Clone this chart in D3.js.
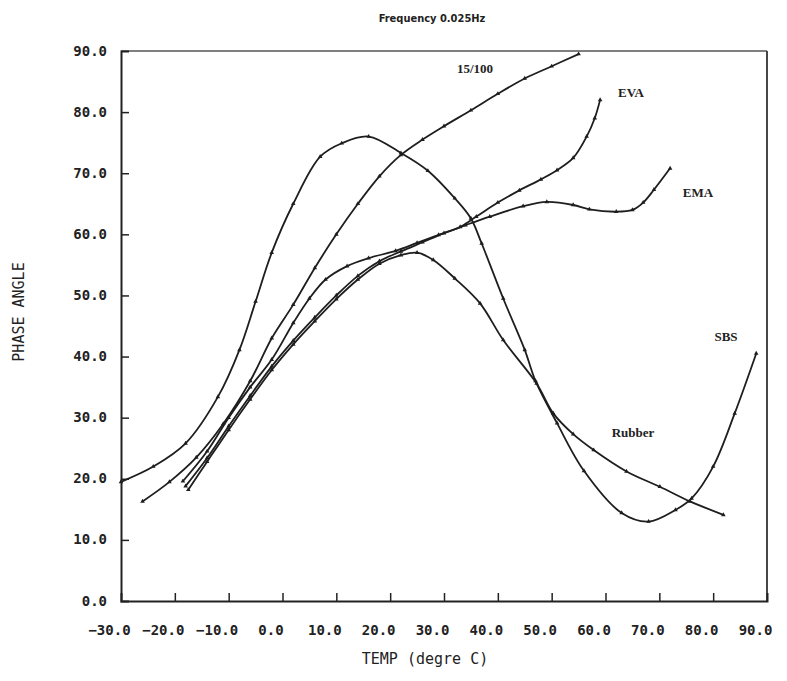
<!DOCTYPE html>
<html>
<head>
<meta charset="utf-8">
<script src="https://cdnjs.cloudflare.com/ajax/libs/d3/7.8.5/d3.min.js"></script>
<style>
	body { margin: 0; background: #fff; }
	.ejes text { font-family: "DejaVu Sans Mono", monospace; font-size: 14px; font-weight: bold; fill: #222; }
	.nombres text { font-family: "Liberation Serif", serif; font-size: 13px; font-weight: bold; fill: #222; }
</style>
</head>
<body>
<div id="grafico"></div>
<script>
// datos (temperatura en C, angulo de fase)
var temp_sbs  = [-30, -24, -18, -12, -8, -5, -2, 2, 7, 11, 16, 22, 27, 32, 35, 37, 41, 45, 47, 51, 56, 63, 68, 73, 76, 80, 84, 88];
var fase_sbs  = [19.5, 22, 25.8, 33.4, 41.1, 49, 57, 65, 72.7, 74.9, 76, 73.3, 70.4, 65.9, 62.6, 58.5, 49.5, 41.1, 36, 29.1, 21.3, 14.4, 13, 14.9, 16.8, 22, 30.7, 40.5];

var temp_1510 = [-26, -21, -16, -11, -6, -2, 2, 6, 10, 14, 18, 22, 26, 30, 35, 40, 45, 50, 55];
var fase_1510 = [16.3, 19.5, 23.5, 29, 36, 43, 48.5, 54.5, 60, 65, 69.5, 73, 75.5, 77.7, 80.3, 83, 85.5, 87.5, 89.5];

var temp_eva  = [-18.5, -14, -10, -6, -2, 2, 5, 8, 12, 16, 21, 25, 29, 33, 36, 40, 44, 48, 51, 54, 56.5, 58, 59];
var fase_eva  = [19.6, 24.5, 30, 35, 39.5, 45.5, 49.5, 52.6, 54.8, 56.1, 57.3, 58.6, 59.9, 61.2, 62.9, 65.2, 67.2, 69, 70.5, 72.5, 76, 79, 82];

var temp_ema  = [-18, -14, -10, -6, -2, 2, 6, 10, 14, 18, 22, 26, 30, 34, 38.5, 44.7, 49.1, 54, 57, 62, 65, 67, 69, 72];
var fase_ema  = [18.8, 23.4, 28.6, 33.6, 38.4, 42.6, 46.4, 50, 53.2, 55.6, 57.2, 58.7, 60.2, 61.5, 62.9, 64.6, 65.3, 64.8, 64.1, 63.7, 64, 65.2, 67.3, 70.8];

var temp_rub  = [-17.5, -14, -10, -6, -2, 2, 6, 10, 14, 18, 22, 25, 28, 32, 36.7, 41, 47.2, 50.3, 54, 57.8, 63.9, 70.1, 75.7, 81.9];
var fase_rub  = [18.2, 22.8, 28, 33, 37.8, 42, 45.8, 49.4, 52.6, 55.2, 56.6, 57, 55.8, 52.8, 48.7, 42.7, 35.6, 30.7, 27.3, 24.7, 21.2, 18.7, 16.3, 14.1];

var nombres   = ["SBS", "15/100", "EVA", "EMA", "Rubber"];
var ticks_x   = [-30, -20, -10, 0, 10, 20, 30, 40, 50, 60, 70, 80, 90];
var ticks_y   = [0, 10, 20, 30, 40, 50, 60, 70, 80, 90];

var width = 787;
var height = 681;

var canvas = d3.select("#grafico")
				.append("svg")
				.attr("width", width)
				.attr("height", height);

var x = d3.scaleLinear().domain([-30, 90]).range([121, 767]);
var y = d3.scaleLinear().domain([0, 90]).range([601, 51]);

var grupo_ejes = canvas.append("g").attr("class", "ejes");
var grupo_curvas = canvas.append("g");
var grupo_nombres = canvas.append("g").attr("class", "nombres");

// Titulo

canvas.append("text")
		.attr("x", 432)
		.attr("y", 22)
		.attr("text-anchor", "middle")
		.style("font-family", "DejaVu Sans Condensed, sans-serif")
		.style("font-size", "11px")
		.style("font-weight", "bold")
		.style("fill", "#222")
		.text("Frequency 0.025Hz");

// Marco

grupo_ejes.append("line")
			.attr("x1", x(-30)).attr("x2", x(90))
			.attr("y1", y(90)).attr("y2", y(90))
			.attr("stroke", "#555").attr("stroke-width", 1.5);
grupo_ejes.append("line")
			.attr("x1", x(90)).attr("x2", x(90))
			.attr("y1", y(90)).attr("y2", y(0))
			.attr("stroke", "#333").attr("stroke-width", 1.8);

// Eje X

var eje_x = d3.axisBottom(x)
				.tickValues(ticks_x)
				.tickSize(-8)
				.tickPadding(20)
				.tickFormat(d3.format(".1f"));

var g_x = grupo_ejes.append("g")
				.attr("transform", "translate(0," + y(0) + ")")
				.call(eje_x);
g_x.select(".domain").attr("stroke", "#222").attr("stroke-width", 2);
g_x.selectAll(".tick line").attr("stroke", "#222").attr("stroke-width", 1.5);
g_x.selectAll(".tick text").attr("dx", -12).attr("dy", 14);
g_x.selectAll(".tick").filter(function(d){ return d == -30 || d == 90; }).select("line").remove();

// Eje Y

var eje_y = d3.axisLeft(y)
				.tickValues(ticks_y)
				.tickSize(-8)
				.tickPadding(14)
				.tickFormat(d3.format(".1f"));

var g_y = grupo_ejes.append("g")
				.attr("transform", "translate(" + x(-30) + ",0)")
				.call(eje_y);
g_y.select(".domain").attr("stroke", "#222").attr("stroke-width", 2);
g_y.selectAll(".tick line").attr("stroke", "#222").attr("stroke-width", 1.5);
g_y.selectAll(".tick text").attr("dy", 4);
g_y.selectAll(".tick").filter(function(d){ return d == 0 || d == 90; }).select("line").remove();

// Titulos de ejes

grupo_ejes.append("text")
			.attr("x", 425)
			.attr("y", 664)
			.attr("text-anchor", "middle")
			.style("font-size", "15px")
			.style("font-weight", "normal")
			.text("TEMP (degre C)");

grupo_ejes.append("text")
			.attr("transform", "translate(24,312) rotate(-90)")
			.attr("text-anchor", "middle")
			.style("font-size", "15px")
			.style("font-weight", "normal")
			.text("PHASE ANGLE");

// Curvas

var temps = [temp_sbs, temp_1510, temp_eva, temp_ema, temp_rub];
var fases = [fase_sbs, fase_1510, fase_eva, fase_ema, fase_rub];

var linea = d3.line()
				.x(function(d){ return x(d[0]); })
				.y(function(d){ return y(d[1]); })
				.curve(d3.curveCatmullRom.alpha(0.5));

var marca = d3.symbol().type(d3.symbolTriangle).size(9);

for(i = 0; i < temps.length; i++)
{
	var puntos = d3.zip(temps[i], fases[i]);

	grupo_curvas.append("path")
				.datum(puntos)
				.attr("d", linea)
				.attr("fill", "none")
				.attr("stroke", "#1e1e1e")
				.attr("stroke-width", 1.8);

	grupo_curvas.selectAll(".m" + i)
				.data(puntos)
				.enter()
				.append("path")
				.attr("class", "m" + i)
				.attr("d", marca)
				.attr("transform", function(d){ return "translate(" + x(d[0]) + "," + y(d[1]) + ")"; })
				.attr("fill", "#1e1e1e");
}

// Nombres de curvas

var pos_nombres = [[726, 341], [475, 73], [631, 97], [698, 197], [633, 437]];
for(i = 0; i < nombres.length; i++)
{
	grupo_nombres.append("text")
					.attr("x", pos_nombres[i][0])
					.attr("y", pos_nombres[i][1])
					.attr("text-anchor", "middle")
					.text(nombres[i]);
}
</script>
</body>
</html>
